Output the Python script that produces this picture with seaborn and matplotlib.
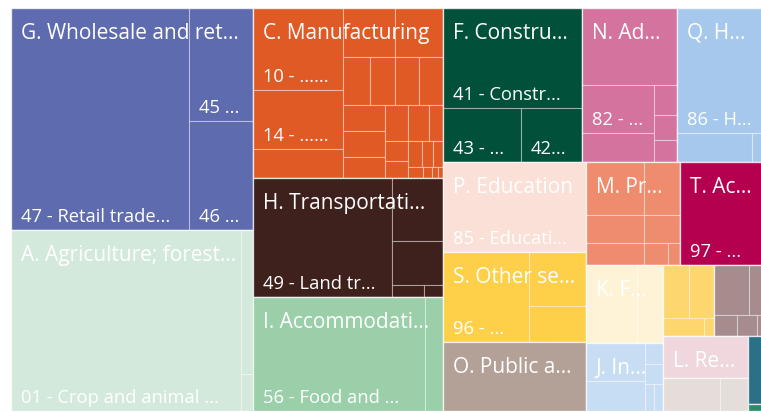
import matplotlib
matplotlib.use("Agg")
import matplotlib.pyplot as plt
from matplotlib.patches import Rectangle
import seaborn as sns

# industry groups (section label as shown in the visual, already truncated)
group_labels = ["G. Wholesale and ret...", "A. Agriculture; forest...", "C. Manufacturing",
                "H. Transportati...", "I. Accommodati...", "F. Constru...", "N. Ad...", "Q. H...",
                "P. Education", "S. Other se...", "O. Public a...", "M. Pr...", "T. Ac...",
                "K. F...", "J. In...", "", "", "L. Re...", "", "", ""]

# division values inside each section
wholesale = [39516, 7232, 6976]
agriculture = [41630, 1728, 444]
manufacturing = [7380, 5310, 2610, 2548, 2352, 1296, 1152, 1152, 1152, 1092, 1092, 882,
                 828, 756, 504, 460, 391, 364, 286, 260, 165, 99, 66, 55]
transport = [16541, 3213, 2244, 384, 228]
accommodation = [19608, 2052]
construction = [13900, 4212, 3294]
administrative = [7315, 3456, 2088, 690, 575, 506]
health = [11000, 2175, 377]
education = [12900]
other_services = [7740, 3062, 2038]
public_admin = [9867]
professional = [3074, 1908, 1624, 1276, 1008, 528, 264]
households = [8755]
financial = [3990, 1960]
information = [2260, 1800, 367, 335, 235, 235]
arts = [1431, 1325, 756, 180]
water = [1750, 800, 483, 420, 168]
real_estate = [3526]
extraterritorial = [1914, 924]
electricity = [1150]
mining = [125]

# division labels (blank where the visual shows none)
wholesale_lbl = ["47 - Retail trade...", "45 ...", "46 ..."]
agriculture_lbl = ["01 - Crop and animal ...", "", ""]
manufacturing_lbl = ["10 - ......", "14 - ......"]
transport_lbl = ["49 - Land tr..."]
accommodation_lbl = ["56 - Food and ..."]
construction_lbl = ["41 - Constr...", "43 - ...", "42..."]
administrative_lbl = ["", "82 - ..."]
health_lbl = ["86 - H..."]
education_lbl = ["85 - Educati..."]
other_services_lbl = ["96 - ..."]
households_lbl = ["97 - ..."]

group_values = [wholesale, agriculture, manufacturing, transport, accommodation, construction,
                administrative, health, education, other_services, public_admin, professional,
                households, financial, information, arts, water, real_estate, extraterritorial,
                electricity, mining]
child_labels = [wholesale_lbl, agriculture_lbl, manufacturing_lbl, transport_lbl, accommodation_lbl,
                construction_lbl, administrative_lbl, health_lbl, education_lbl, other_services_lbl,
                [], [], households_lbl, [], [], [], [], [], [], [], []]

colors = ["#5f6baf", "#d3e9dc", "#e05a26", "#3e201c", "#9bcfaa", "#01503a", "#d5739f", "#a6c8ec",
          "#fae0d7", "#fecf48", "#b3a197", "#ef8c6e", "#b4004e", "#fef3d6", "#c7ddf3", "#fdd66d",
          "#a68c8c", "#f0d6dd", "#e5ddd9", "#2b7086", "#2e8b6a"]

PHI = (1 + 5 ** 0.5) / 2


def squarify(values, x0, y0, x1, y1, ratio=PHI):
    """squarified tiling (same rule as d3.treemapSquarify), y grows downward"""
    rects = []
    n = len(values)
    total = float(sum(values))
    i0 = i1 = 0
    while i0 < n:
        dx, dy = x1 - x0, y1 - y0
        s = values[i1]
        i1 += 1
        vmin = vmax = s
        alpha = max(dy / dx, dx / dy) / (total * ratio)
        beta = s * s * alpha
        best = max(vmax / beta, beta / vmin)
        while i1 < n:
            v = values[i1]
            s2 = s + v
            mn, mx = min(vmin, v), max(vmax, v)
            beta = s2 * s2 * alpha
            r = max(mx / beta, beta / mn)
            if r > best:
                break
            s, vmin, vmax, best = s2, mn, mx, r
            i1 += 1
        row = values[i0:i1]
        if dx < dy:
            h = dy * s / total if total else dy
            cx = x0
            for v in row:
                w = dx * v / s
                rects.append((cx, y0, cx + w, y0 + h))
                cx += w
            y0 += h
        else:
            w = dx * s / total if total else dx
            cy = y0
            for v in row:
                h = dy * v / s
                rects.append((x0, cy, x0 + w, cy + h))
                cy += h
            x0 += w
        total -= s
        i0 = i1
    return rects


sns.set_theme(style="white")
plt.rcParams['font.family'] = ['Open Sans', 'DejaVu Sans']

W, H = 754, 403
fig = plt.figure(figsize=(7.61, 4.12), dpi=100)
ax = fig.add_axes([11 / 761, 1 / 412, W / 761, H / 412])
ax.set_xlim(0, W)
ax.set_ylim(H, 0)
ax.axis('off')

# sort sections by size, keep colours and labels with them
order = sorted(range(len(group_values)), key=lambda i: -sum(group_values[i]))
totals = [sum(group_values[i]) for i in order]
group_rects = squarify(totals, 0, 0, W, H)

for gi, (gx0, gy0, gx1, gy1) in zip(order, group_rects):
    vals = group_values[gi]
    lbls = child_labels[gi] + [""] * (len(vals) - len(child_labels[gi]))
    pairs = sorted(zip(vals, lbls), key=lambda p: -p[0])
    crects = squarify([p[0] for p in pairs], gx0, gy0, gx1, gy1)
    for (v, lb), (x0, y0, x1, y1) in zip(pairs, crects):
        ax.add_patch(Rectangle((x0, y0), x1 - x0, y1 - y0, facecolor=colors[gi],
                               edgecolor=(1, 1, 1, 0.35), linewidth=0.8))
        if lb:
            ax.text(x0 + 10, y1 - 8, lb, color="white", fontsize=13.2, va="baseline", ha="left")
    ax.add_patch(Rectangle((gx0, gy0), gx1 - gx0, gy1 - gy0, facecolor="none",
                           edgecolor=(1, 1, 1, 0.6), linewidth=1.0))
    if group_labels[gi]:
        ax.text(gx0 + 10, gy0 + 31, group_labels[gi], color="white", fontsize=15,
                va="baseline", ha="left")

fig.savefig("out.png", dpi=100, facecolor="white")
